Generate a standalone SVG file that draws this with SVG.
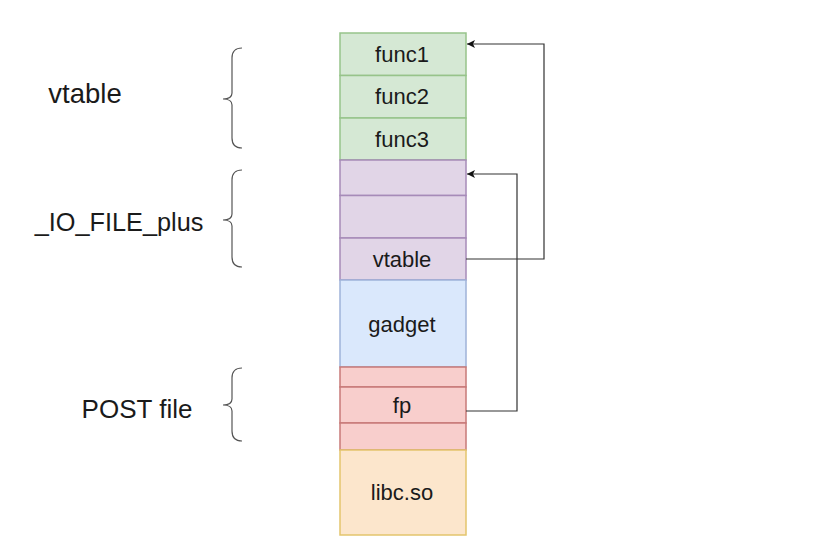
<svg xmlns="http://www.w3.org/2000/svg" width="814" height="550" viewBox="0 0 814 550">
<defs>
<style>
text{font-family:"Liberation Sans",Arial,sans-serif;fill:#1a1a1a}
.cell{font-size:22px;text-anchor:middle}
.lbl{font-size:26px;text-anchor:middle}
.g{fill:#d5e8d4;stroke:#97c38a;stroke-width:1.5}
.p{fill:#e1d5e7;stroke:#a68bb8;stroke-width:1.5}
.b{fill:#dae8fc;stroke:#9fb3d9;stroke-width:1.5}
.r{fill:#f8cecc;stroke:#c77a78;stroke-width:1.5}
.y{fill:#fce6cc;stroke:#e3c56c;stroke-width:1.5}
.brace{fill:none;stroke:#555;stroke-width:1.2}
.conn{fill:none;stroke:#333;stroke-width:1.2}
</style>
<marker id="arr" markerUnits="userSpaceOnUse" markerWidth="10" markerHeight="10" refX="9" refY="5" orient="auto">
<path d="M1,1 L9,5 L1,9 L3,5 Z" fill="#111"/>
</marker>
</defs>
<rect width="814" height="550" fill="#fff"/>
<g id="func1"><rect class="g" x="340" y="33" width="126" height="42.5"/><text class="cell" x="402" y="61.5">func1</text></g>
<g id="func2"><rect class="g" x="340" y="75.5" width="126" height="42.5"/><text class="cell" x="402" y="104">func2</text></g>
<g id="func3"><rect class="g" x="340" y="118" width="126" height="42"/><text class="cell" x="402" y="146.5">func3</text></g>
<g id="io1"><rect class="p" x="340" y="160" width="126" height="35.5"/></g>
<g id="io2"><rect class="p" x="340" y="195.5" width="126" height="42.5"/></g>
<g id="io_vtable"><rect class="p" x="340" y="238" width="126" height="42"/><text class="cell" x="402" y="266.5">vtable</text></g>
<g id="gadget"><rect class="b" x="340" y="280" width="126" height="87"/><text class="cell" x="402" y="331.5">gadget</text></g>
<g id="post1"><rect class="r" x="340" y="367" width="126" height="20"/></g>
<g id="fp"><rect class="r" x="340" y="387" width="126" height="36"/><text class="cell" x="402" y="412.5">fp</text></g>
<g id="post3"><rect class="r" x="340" y="423" width="126" height="27"/></g>
<g id="libc"><rect class="y" x="340" y="450" width="126" height="85"/><text class="cell" x="402" y="500">libc.so</text></g>
<g id="brace_vtable"><path class="brace" d="M242,48 Q232,48 232,58 L232,93 Q232,99 223,99 Q232,99 232,105 L232,138 Q232,148 242,148"/><text class="lbl" x="85" y="103" style="font-size:27.5px">vtable</text></g>
<g id="brace_io"><path class="brace" d="M242,170 Q232,170 232,180 L232,214 Q232,220 223,220 Q232,220 232,226 L232,257 Q232,267 242,267"/><text class="lbl" x="119" y="231" style="font-size:25.3px">_IO_FILE_plus</text></g>
<g id="brace_post"><path class="brace" d="M242,368 Q232,368 232,378 L232,399 Q232,405 223,405 Q232,405 232,411 L232,431 Q232,441 242,441"/><text class="lbl" x="137" y="418">POST file</text></g>
<g id="connectors">
<path class="conn" d="M466,259 H544 V44 H467" marker-end="url(#arr)"/>
<path class="conn" d="M466,411 H517 V174 H467" marker-end="url(#arr)"/>
</g>
</svg>
